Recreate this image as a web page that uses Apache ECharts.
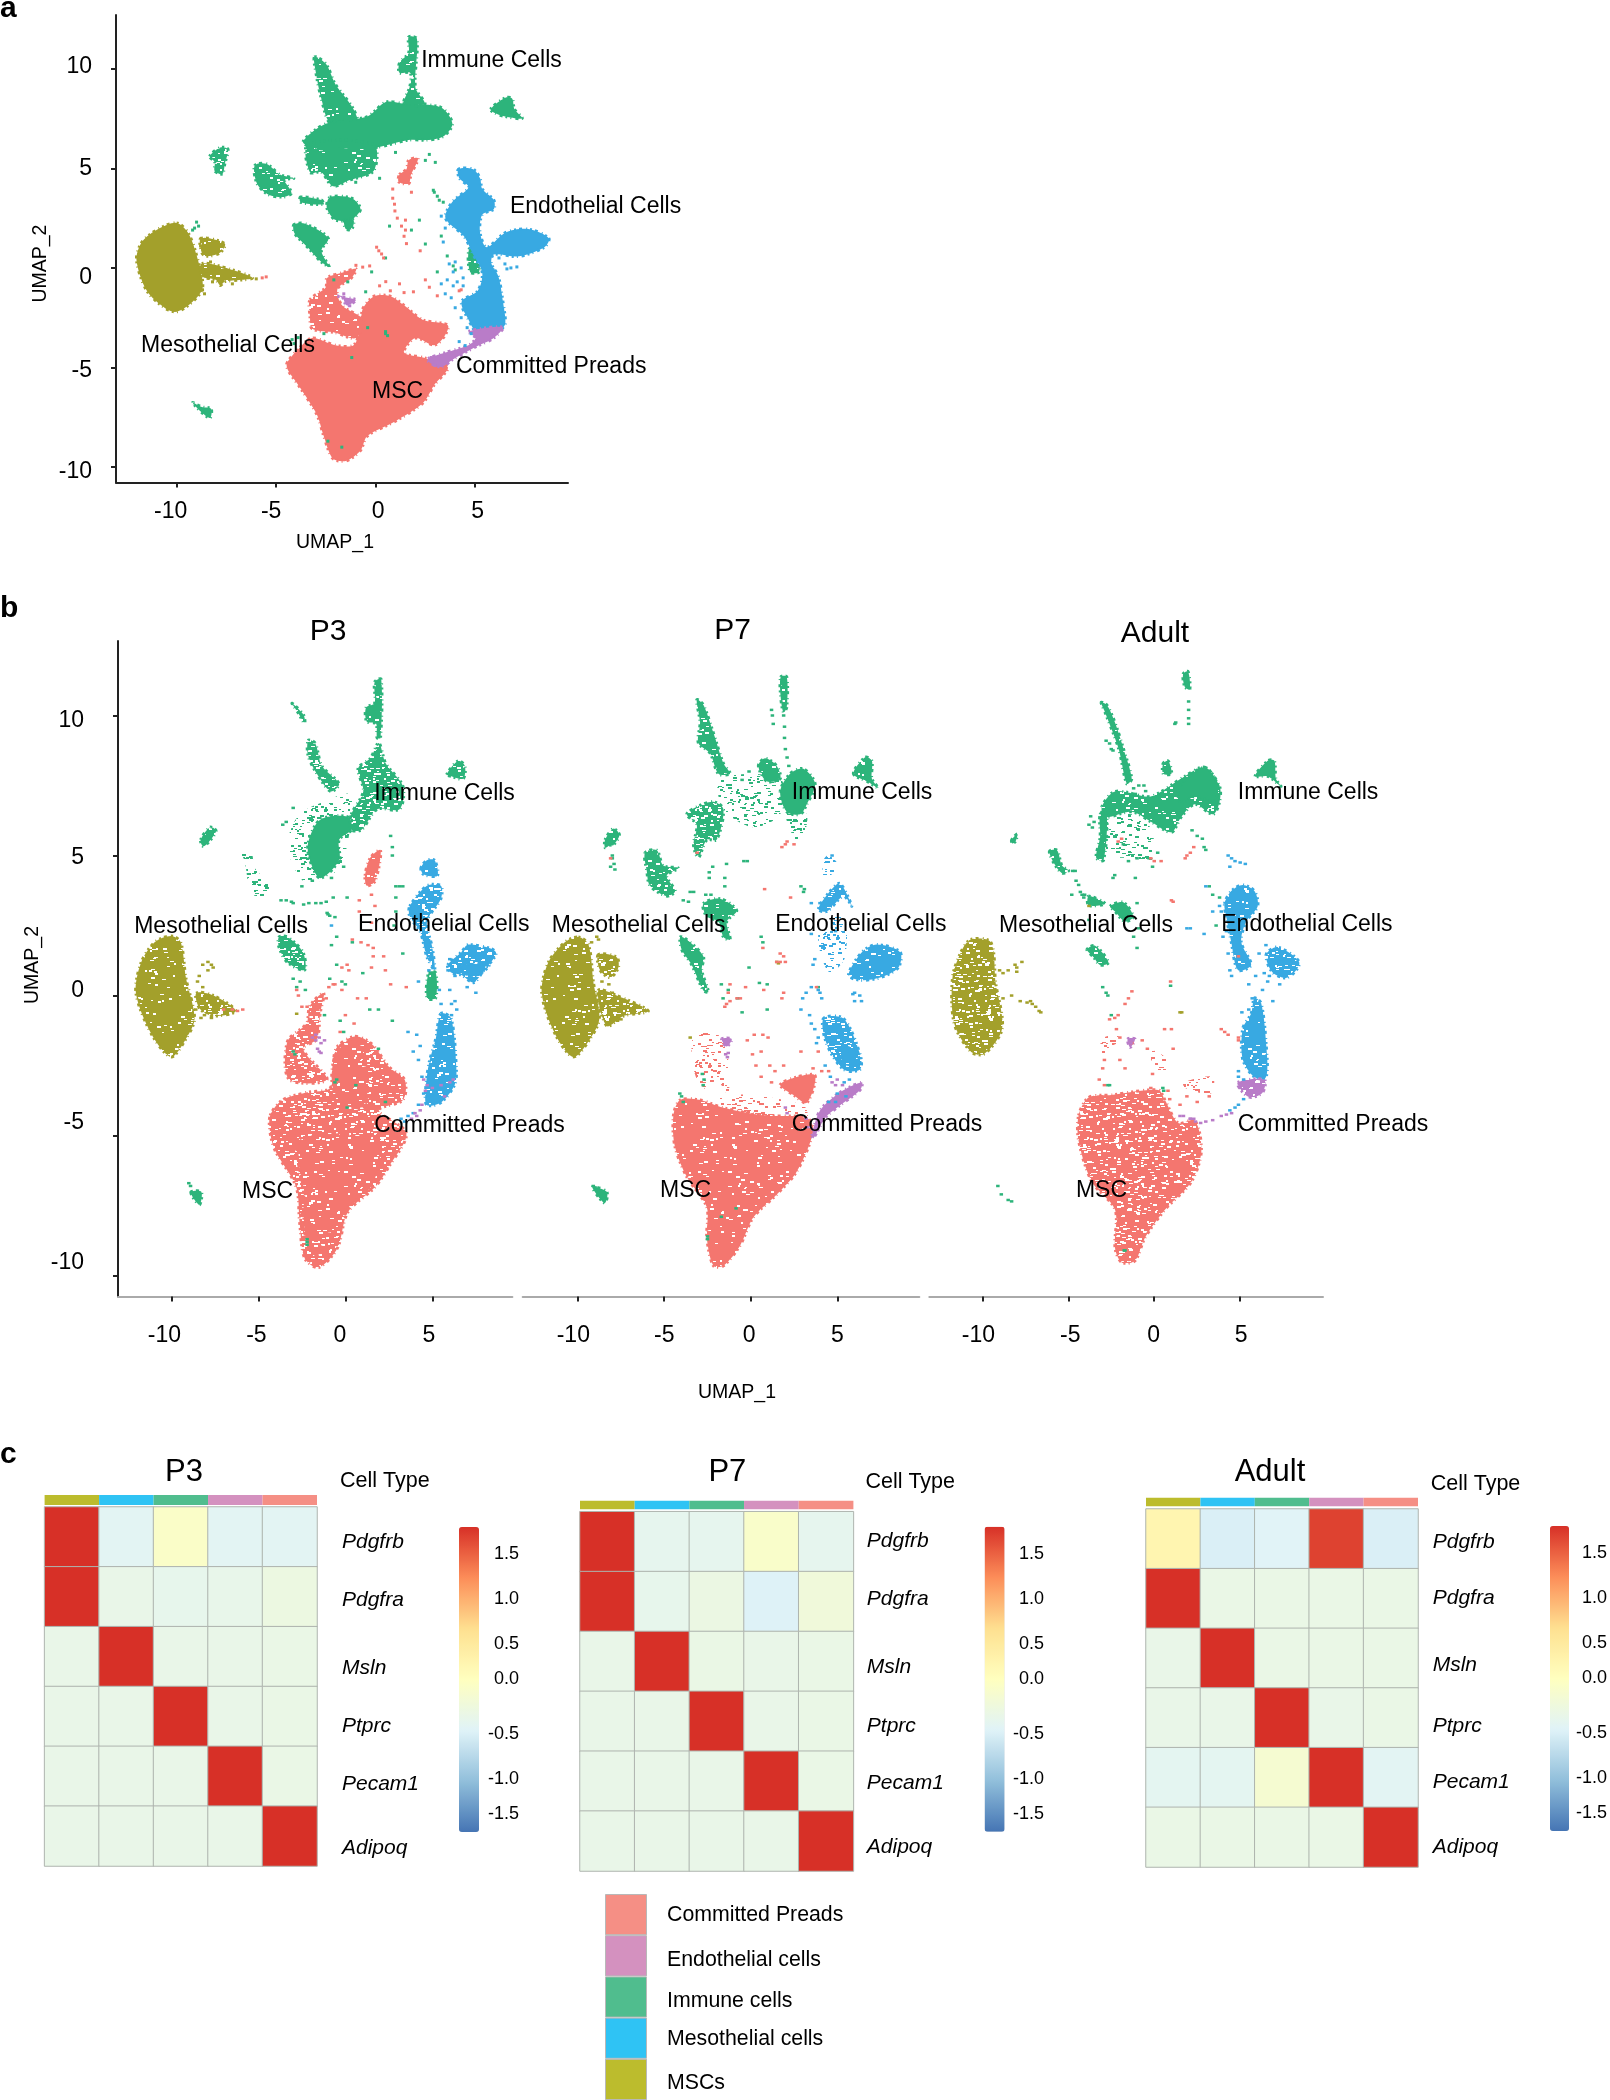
<!DOCTYPE html>
<html><head><meta charset="utf-8"><style>html,body{margin:0;padding:0;background:#fff}#c{width:1610px;height:2100px}</style>
<script src="https://cdn.jsdelivr.net/npm/echarts@6/dist/echarts.min.js"></script></head>
<body><div id="c"></div>
<script>
// ---------- Tick labels and categories ----------
const umapXTicks=[-10,-5,0,5];
const umapYTicks=[-10,-5,0,5,10];
const genes=['Pdgfrb','Pdgfra','Msln','Ptprc','Pecam1','Adipoq'];
const cellTypes=['MSCs','Mesothelial cells','Immune cells','Endothelial cells','Committed Preads'];
const legendOrder=['Committed Preads','Endothelial cells','Immune cells','Mesothelial cells','MSCs'];
const colorbarLabels=['1.5','1.0','0.5','0.0','-0.5','-1.0','-1.5'];
const clusterNames=['Immune Cells','Endothelial Cells','Mesothelial Cells','Committed Preads','MSC'];

// ---------- Heatmap values (rows = genes, columns = cellTypes) ----------
const heatP3=[[1.9,-.58,-.1,-.58,-.58],[1.9,-.45,-.5,-.48,-.38],[-.45,1.9,-.45,-.45,-.43],[-.45,-.45,1.9,-.45,-.43],[-.45,-.45,-.45,1.9,-.43],[-.45,-.45,-.45,-.45,1.9]];
const heatP7=[[1.9,-.52,-.52,-.12,-.52],[1.9,-.5,-.4,-.65,-.3],[-.45,1.9,-.42,-.45,-.43],[-.45,-.45,1.9,-.45,-.43],[-.45,-.45,-.45,1.9,-.43],[-.45,-.45,-.45,-.45,1.9]];
const heatAdult=[[.2,-.68,-.62,1.78,-.68],[1.9,-.43,-.43,-.43,-.43],[-.45,1.9,-.43,-.43,-.43],[-.45,-.45,1.9,-.45,-.43],[-.55,-.55,-.2,1.9,-.58],[-.43,-.43,-.43,-.43,1.9]];

// ---------- UMAP regions: [density level, x,y, x,y, ...] ----------
const aImmune=[
[2,-3.07,10.6,-2.5,10.25,-2.03,9.24,-1.11,7.97,-.88,7.05,-2.26,7.24,-2.73,8.51,-3,9.79],
[1,-3.65,6.33,-2.5,7.24,-.42,7.6,.51,8.33,1.43,8.24,3.28,8.06,3.86,7.24,3.4,6.6,2.59,6.42,1.66,6.42,.05,6.05,-1.3,6,-3,6],
[2,-3.4,6.2,-.1,6.2,-.1,4.87,-1.34,4.4,-2.15,4.1,-2.73,4.8,-3.3,4.8],
[2,1.66,11.6,2.08,11.5,2,9.06,2.47,8.24,1.43,8.24,1.73,9.15,1.73,9.8,1.2,9.8,1.2,10.3,1.66,10.8],
[1,5.78,7.97,6.52,8.55,6.86,8.51,6.98,7.97,7.37,7.51,6.52,7.6,6.05,7.75],
[3,-8.34,5.6,-7.81,6.05,-7.42,5.96,-7.58,5.23,-7.7,4.72,-8.09,4.87,-8.09,5.32],
[2,-6.08,5.14,-5.5,5.23,-4.81,4.69,-4.11,4.5,-4.58,4.41,-4.23,3.77,-4.62,3.56,-5.38,3.68,-5.96,4.23],
[1,-3.77,3.56,-2.73,3.41,-2.61,3.19,-3.77,3.3],
[1,-2.3,3.55,-1.2,3.5,-.76,2.95,-1.2,2.45,-2,2.4,-2.45,3],
[2,-1.57,2.4,-1.11,2.4,-1.2,1.95,-1.5,1.95],
[1,-4.11,2.17,-3.54,2.22,-2.38,1.49,-2.73,.86,-2.33,.04,-2.84,.4,-3.42,1.04,-4.07,1.73],
[1,-9.2,-6.76,-8.74,-6.98,-8.27,-7.07,-8.32,-7.53,-8.74,-7.26],
[2,4.7,.95,5.15,.9,5.2,-.2,4.75,-.2]];
const aMeso=[
[1,-10,2.26,-9.43,1.77,-9.01,.67,-8.69,-.97,-9.2,-1.7,-10,-2.2,-10.58,-2.02,-11.5,-1.15,-12.02,.4,-11.74,1.31,-10.93,1.95],
[2,-8.78,1.49,-7.58,1.22,-7.81,.77,-8.5,.58,-8.74,.77],
[2,-8.74,.22,-7.35,-.05,-6.19,-.51,-7.58,-.69,-7.81,-.88,-8.04,-.6,-8.74,-.42]];
const aMSC=[
[1,-4.46,-4.79,-3.88,-4.07,-3.19,-3.52,-2.03,-3.88,-1.11,-3.88,-.76,-2.97,-.65,-2.06,-.07,-1.42,.74,-1.42,1.43,-1.88,2.36,-2.6,3.63,-2.88,3.4,-3.52,2.94,-3.88,2,-3.52,1.43,-4.25,2.47,-4.52,3.63,-4.98,2.94,-5.89,2.36,-6.8,.97,-7.71,-.42,-8.44,-.76,-9.17,-1.46,-9.68,-2.15,-9.57,-2.61,-8.44,-2.96,-7.35,-3.88,-5.89,-4.39,-5.16],
[2,-3.3,-1.6,-2.5,-.97,-2.45,-.51,-1.69,-.24,-.99,-.05,-1.22,-.51,-1.92,-1.06,-1.69,-1.88,-.65,-2.6,-.99,-3.52,-2.03,-3.25,-3.19,-3.06,-3.3,-2.42],
[1,1.2,4.69,1.55,4.96,1.66,5.41,2.13,5.5,1.78,4.69,1.66,4.23,1.16,4.32]];
const aEndo=[
[1,4.16,4.96,4.9,4.96,5.25,4.5,5.36,3.96,5.94,3.41,5.94,2.95,5.36,2.68,5.25,1.77,5.59,1.04,6.52,1.77,7.67,1.95,8.71,1.49,8.48,1.04,7.21,.58,5.94,.67,5.82,.22,6.17,-.42,6.4,-1.7,6.52,-2.79,6.29,-3.06,5.13,-3.25,4.67,-2.6,4.32,-1.7,5.13,-1.15,5.36,-.24,4.9,.67,4.44,1.59,3.51,2.5,3.86,3.32,4.67,4.05,4.21,4.5]];
const aPread=[
[1,4.67,-3.19,6.4,-2.97,5.94,-3.52,5.02,-3.97,3.86,-4.61,3.28,-4.98,2.59,-4.61,3.51,-4.25,4.67,-3.88,5.02,-3.52],
[1,-1.92,-1.42,-.99,-1.6,-1.46,-1.88,-1.69,-1.42]];

const p3Immune=[
[3,-2.14,9.11,-1.74,9.02,-1.35,8.2,-.36,7.56,-.85,7.29,-1.64,7.92,-2.14,8.56],
[3,-3.07,10.44,-2.4,10.02,-2.34,9.71,-2.73,10.11],
[4,-3.33,5.56,-2.63,6.47,-1.25,6.92,.34,7.19,.34,6.28,-.26,4.64,-1.45,4.1,-2.44,4.1,-3.23,5.01],
[2,-2.14,5.46,-1.45,6.28,.14,6.38,.34,5.92,-.36,5.56,-.36,4.83,-1.45,4.19,-2.04,4.83],
[3,.34,6.47,1.03,7.29,.73,8.11,1.43,8.47,1.92,9.02,2.32,8.29,3.31,7.47,3.11,6.65,1.82,6.65,.93,5.92,.34,5.92],
[2,1.68,11.2,2.06,11.29,2.02,9.2,1.82,9.2,1.76,9.71,1.23,9.78,1.19,10.29,1.68,10.44],
[3,5.82,7.89,6.48,8.38,6.87,8.2,6.77,7.74,6.08,7.83],
[2,-8.32,5.56,-7.78,6.01,-7.43,5.88,-7.88,5.46,-8.18,5.33],
[4,-6.1,5.19,-5.41,5.1,-5.21,4.55,-4.32,3.92,-4.62,3.55,-5.41,3.64,-5.8,4.83],
[3,-3.82,2.09,-3.33,2.09,-2.44,1.55,-2.34,.91,-3.33,1.18,-3.82,1.73],
[1,-8.87,-7.01,-8.28,-7.01,-8.38,-7.47,-8.77,-7.2],
[2,4.79,.82,5.19,.82,5.19,-.09,4.69,-.09]];
const p3Meso=[
[2,-10.02,2.13,-9.47,1.91,-9.17,.64,-8.67,-.82,-9.17,-1.55,-10.02,-2.19,-11.15,-1.37,-12.04,.09,-11.74,1.18,-10.95,1.91],
[3,-8.57,.09,-7.58,0,-6.3,-.55,-7.58,-.73,-8.38,-.46]];
const p3MSC=[
[3,-4.32,-4.28,-3.62,-3.73,-2.24,-3.46,-.85,-3.28,-.55,-1.91,.53,-1.46,1.52,-1.73,2.51,-2.55,3.41,-3.01,3.31,-3.73,1.92,-4.1,3.5,-4.92,2.51,-6.1,1.72,-6.83,.14,-7.74,-.46,-9.02,-1.54,-9.71,-2.34,-9.38,-2.63,-8.11,-2.83,-6.83,-4.02,-5.56,-4.32,-4.92],
[2,-.55,-2.09,.53,-1.55,1.13,-2.28,1.13,-3.92,-.06,-3.92,-.75,-3.19],
[2,-2.6,-5.2,1.8,-5.2,1.6,-6.7,.1,-7.6,-.9,-8.4,-1.7,-9.3,-2.3,-8.6,-2.4,-7],
[3,-3.33,-1.64,-2.24,-1,-2.04,-.36,-1.25,.09,-1.45,-.64,-1.64,-1.55,-2.44,-1.91,-1.05,-3,-3.23,-3],
[2,1.13,4.28,1.43,4.92,2.02,5.19,1.72,4.1,1.23,3.92]];
const p3Endo=[
[3,3.7,3.19,4.69,3.92,5.49,3.92,5.49,3.46,4.69,2.64,4.99,1.73,5.13,.91,4.69,1.37,4.3,2.28,3.7,2.82],
[2,4.34,4.55,4.69,4.83,5.13,4.83,5.29,4.28,4.5,4.32],
[3,5.88,1.09,6.67,1.55,7.07,1.82,8.65,1.55,7.86,.82,7.37,.46,6.67,.73,6.08,.82],
[2,6.67,1.09,8.25,1.09,7.56,.73,6.77,.82],
[2,5.49,-.64,6.08,-.82,6.38,-2.64,6.28,-3.19,5.49,-3.82,4.69,-3.92,4.59,-3.55,4.79,-2.46,5.19,-1.55]];
const p3Pread=[];

const p7Immune=[
[2,-3.12,10.56,-2.74,10.38,-2.16,9.38,-1.58,8.29,-1.19,7.92,-1.87,7.92,-2.35,8.65,-3.03,9.02,-2.93,9.75],
[4,-1.77,7.74,1.7,7.74,1.7,6.47,.15,6.01,-1.58,6.65],
[1,1.7,7.29,2.27,7.92,3.04,8.1,3.72,7.56,3.24,6.83,2.85,6.47,2.08,6.56],
[2,.44,8.2,.83,8.47,1.5,8.2,1.7,7.74,.92,7.65],
[2,1.73,11.38,2.08,11.38,2.08,10.29,1.89,10.11,1.73,10.66],
[3,-3.7,6.47,-3.12,6.74,-2.16,6.92,-1.58,6.65,-1.97,5.56,-2.54,5.56,-3.03,4.92,-3.31,5.37,-3.12,6.1],
[4,2.08,6.47,3.24,6.47,2.85,5.37,2.27,5.92],
[2,5.93,7.92,6.61,8.51,7,8.38,7,7.74,7.38,7.41,6.71,7.65],
[2,-8.42,5.56,-7.94,5.96,-7.59,5.74,-7.94,5.37,-8.13,5.37,-8.42,5.28],
[3,-6.11,5.1,-5.43,5.19,-5.05,4.64,-4.18,4.55,-4.86,4.28,-4.37,3.73,-4.86,3.55,-5.82,3.92,-6.01,4.46],
[2,-2.74,3.28,-1.77,3.46,-.81,3.04,-1.39,2.64,-1.19,2,-1.58,2.09,-1.87,2.64,-2.54,2.82],
[2,-4.08,2.09,-3.7,2,-2.74,1.4,-2.83,.91,-2.45,.13,-2.74,.18,-3.41,1.09,-3.99,1.64],
[1,-9.15,-6.83,-8.32,-7.01,-8.42,-7.41,-8.8,-7.19]];
const p7Meso=[
[2,-9.96,2.09,-9.38,1.82,-9.09,.46,-8.75,-.82,-9.29,-1.55,-10.25,-2.19,-11.31,-1.37,-12.08,.09,-11.7,1.18,-10.73,1.91],
[3,-8.81,1.46,-7.75,1.37,-7.65,1,-8.13,.64,-8.71,.91],
[3,-8.81,.18,-7.75,0,-5.92,-.55,-7.36,-.73,-8.32,-1.09]];
const p7MSC=[
[4,-1.77,-3.64,-.04,-3.55,3.04,-3.92,3.24,-4.37,.73,-4.28,-1.58,-4.01],
[2,-4.47,-4.28,-4.08,-3.73,-2.93,-3.73,-1.58,-4.01,.73,-4.28,3.24,-4.37,3.62,-4.83,2.66,-6.28,1.5,-7.1,.15,-7.92,-.62,-8.93,-1.58,-9.65,-2.16,-9.65,-2.54,-8.65,-2.54,-7.56,-3.7,-6.47,-4.39,-5.37],
[1,1.7,-3.19,2.66,-2.91,3.72,-2.86,3.24,-3.83,2.47,-3.55],
[4,-3.31,-1.46,-1.97,-1.37,-1.39,-1.91,-1.29,-3.55,-1.97,-3.01,-2.54,-3.37,-3.22,-2.82]];
const p7Endo=[
[2,5.65,.73,6.42,1.55,7.28,1.82,8.63,1.55,8.53,1,7.48,.64,6.32,.55],
[2,3.91,3.09,4.59,3.73,5.16,4,5.84,3.19,5.36,3.55,4.39,3],
[4,4.01,2.46,5.36,2.82,5.45,1.37,4.59,.82,4.01,1.55],
[4,4.2,4.83,4.49,5.01,5.07,4.64,4.59,4.28,4.2,4.28],
[3,4.2,-.82,5.36,-.82,6.32,-2.1,6.32,-2.64,5.36,-2.64,4.39,-1.73],
[2,5.26,-1.91,5.93,-1.91,6.32,-2.46,5.36,-2.46]];
const p7Pread=[
[1,3.53,-5.01,4.01,-4.1,5.16,-3.46,6.42,-3.1,6.32,-3.37,5.16,-3.92,4.3,-4.37,3.62,-5.1],
[1,-1.68,-1.55,-1.1,-1.55,-1.39,-1.82]];

const adImmune=[
[1,1.68,11.48,1.97,11.57,2.07,10.93,1.78,11.02],
[2,-3.09,10.47,-2.76,10.38,-2.28,9.74,-1.8,8.83,-1.31,7.74,-1.6,7.56,-2.08,8.83,-2.86,10.11],
[2,-3.05,6.74,-2.28,7.29,-.35,7.1,.42,7.29,1.78,7.83,2.93,8.15,3.8,7.47,3.8,6.92,3.42,6.47,2.36,6.83,1.58,6.38,1,5.83,-.15,6.19,-1.31,6.56,-2.86,6.37],
[1,1.5,7.5,2.93,8.15,3.7,7.5,3.5,6.95,2.4,7.1,1.5,6.9],
[2,-3.15,6.47,-2.76,6.47,-2.95,4.83,-3.38,4.92,-3.15,5.65],
[4,-2.76,6.28,-1.31,6.47,-.15,5.92,-.15,4.83,-1.31,4.92,-2.66,5.01],
[2,.52,8.29,.81,8.38,1,7.92,.52,7.92],
[1,5.87,7.83,6.6,8.38,6.99,8.38,7.08,7.74,7.37,7.47,6.6,7.83],
[1,-8.3,5.56,-7.97,5.77,-8.06,5.52,-8.26,5.43],
[2,-6.1,5.15,-5.66,5.19,-5.37,4.64,-4.98,4.46,-5.37,4.37,-5.85,4.74],
[1,-2.57,3.19,-1.8,3.33,-1.22,2.82,-1.7,2.64,-2.28,3],
[3,-3.82,3.55,-2.86,3.28,-3.82,3.22],
[2,-3.92,1.64,-3.44,1.78,-2.66,1.18,-3.15,1.09,-3.53,1.37]];
const adMeso=[
[3,-10.68,2,-9.52,1.91,-9.23,.46,-8.85,-1.18,-9.9,-2.09,-10.68,-2,-11.64,-1,-11.74,.64,-11.25,1.55]];
const adMSC=[
[3,-4.4,-4.28,-3.82,-3.64,-2.47,-3.55,.23,-3.37,.62,-3.73,1.39,-4.55,2.36,-4.46,2.74,-5.56,2.16,-6.65,.62,-7.65,-.54,-8.65,-1.12,-9.47,-1.89,-9.53,-2.28,-9.02,-2.28,-7.65,-3.63,-6.65,-4.4,-5.19],
[4,-3.1,-1.6,-2.3,-1.4,-1.9,-1.6,-2.7,-1.9,-2.9,-2.4],
[4,-.4,-1.9,.8,-2.3,.4,-2.9,0,-2.5],
[4,1.7,-3.1,3.4,-2.9,3.3,-3.5,1.8,-3.3]];
const adEndo=[
[2,4.09,3.28,4.48,3.73,5.15,3.95,5.83,3.73,6.02,3.19,5.35,2.64,5.06,1.91,5.64,1.09,4.87,.91,4.48,1.91,4.19,2.82],
[3,6.51,1.46,7.18,1.73,8.44,1.18,7.76,.64,6.89,.82],
[2,5.83,-.09,6.22,-.27,6.51,-1.73,6.51,-2.91,5.83,-2.91,5.15,-2.28,5.15,-1.18,5.64,-.64]];
const adPread=[
[3,4.86,-3.1,6.41,-3,6.31,-3.46,5.64,-3.64,5.15,-3.46],
[1,-1.55,-1.55,-1.12,-1.55,-1.4,-1.85]];

// ---------- Isolated cells: x,y, x,y ... ----------
const aImmuneDots=[2.7,5.7,2.5,5.4,3,5.3,2.9,3.9,3.1,3.6,3.4,3.3,2.95,3.8,3.2,3.4,.7,2.1,2.2,2.4,1.8,1.9,2.5,1.2,3.3,1.6,3.6,.6,3.9,.1,4,-.1,3.1,-.2,-2.1,-.6,-.5,-1.2,-.4,-3,.5,-3.2,-2.6,-3.3,-1.2,-4.5,-1.7,-9,-2.4,-8.7,.5,.5,-.2,-.2,-1.4,-.7,-1,4.3,.2,4.5,1,5.8,-3.9,-3.5,-4.1,-3.8,-8.9,2.1,-9,2.3,-9.1,2,-9.2,1.9,-4.2,-3.6,.6,-3.4,.5,-3.3];
const aMesoDots=[-8.6,-1.3,-8.7,-1.1,-8.4,-.5,-8.5,-.3,-8.3,.3,-8.1,-.2,-8.2,-.7,-8.6,.9,-8.8,1.1,-7.2,-.8,-6,-.55];
const aMSCDots=[.86,3.5,.97,2.86,1.09,2.5,1.43,1.59,.05,1.04,.16,.86,1.55,1.22,2.24,.86,-.99,.13,-.65,.04,.51,-.69,.74,-1.15,1.43,-1.24,2.7,-.97,4.2,-1.15,.86,3.96,.95,3.2,1.3,2.1,1.5,1.9,.3,.7,.4,.5,-.3,.1,1.2,-.8,.2,-.9,1.9,-1.2,2.5,-.6,3.1,-1.4,-5.7,-.5,-5.5,-.45,4.3,-1.1,1.8,3.8,1.5,2.4];
const aEndoDots=[3.3,-.8,3.6,-.6,3.5,-1.3,3.8,-1.5,3.9,-.9,4.1,-.7,4.4,-.9,3.7,.2,4,.3,4.3,0,6.5,.2,6.8,0,7.1,.05,3.5,2,3.3,2.6,4.5,-3.9,4.2,-3.7,4.8,-3.3,3.9,-.2,4.4,-.5,3.4,1.3,4,-2,4.3,-2.5,4.6,-3,6.2,.5,5.9,-.1,6.6,-.05];
const aPreadDots=[-1.6,-1.3,-1.3,-1.9,3,-4.9,2.8,-4.5];
const p3ImmuneDots=[-3.7,3.4,-3.4,3.4,-3.1,3.35,-2.4,3.25,-2.1,3.3,-1.7,3.3,-1.4,3.3,-1.1,3.35,-1,2.9,-.9,2.85,-.6,2.8,-1.05,2.95,-3,3.3,-.7,3.5,-.1,4.6,-.8,4.2,.1,3.5,-3,6.7,-3.4,6.2,-3.6,6.1,-1.9,4.1,-2.5,3.9,2.6,5.7,2.7,5.3,2.7,5,2.9,3.9,3.1,3.9,2.9,3.5,3.3,3.9,2.9,3,2.8,2.5,.4,1.9,-.5,2.1,-.8,1.8,3.3,1.5,-.5,1.1,-.9,.6,-.2,.5,0,.4,1,.8,1.4,-.5,1.9,-.5,2.7,-.9,-.3,-.9,-.1,-1.3,-2.3,.2,-2.6,.5,-1.2,-.7,-2.8,.3,-3,.6,-8.9,-6.8,-9,-6.7,-.5,-3,-.6,-3.1,.6,-3.2,.1,-4,2.3,-3.8,1.9,-1.9,-3,-2,-2.9,-2.1,-2.2,-8.7,-2.2,-8.8,-2.2,-8.9];
const p3MesoDots=[-8.2,1.1,-7.9,1.2,-7.9,.9,-7.7,1.1,-7.6,1,-8.4,.7,-8.5,.5,-8.2,.3,-8.6,-.5,-8.3,-.8,-8.1,-.7,-7.7,-.8,-8.9,-.1,-2.8,-.65];
const p3MSCDots=[1.5,3.6,.8,3.4,.8,3,1.7,3.2,1.5,2.6,.4,2,.9,1.9,1.3,1.8,1.6,1.7,1.6,1.4,2.2,1.4,2.3,.9,1.5,1,.1,1.1,.2,.9,-.2,1,-.2,.2,-.7,.4,-.95,.3,-1.1,-.1,.7,-.1,1.2,-.1,2.6,.4,3.5,.3,.5,-1,0,-.7,-2.8,.2,-2.7,0,-2.5,-.4,-2.2,-.4,-.3,-1.3,-.6,.4,-7,-.5,-6.5,-.5,-6.2,-.55,-5.9,-.5];
const p3EndoDots=[3.6,-1.3,4.1,-1.4,4.3,-1.8,3.9,-2,4.2,-2.3,4.4,-2.9,4.5,-3.5,4.2,-3.9,3.9,-4.2,3.6,-4.3,3.2,-4.4,3.4,-4.5,6.1,-.3,6.3,-.2,6.4,-.5,6.1,-.7,5.4,.2,5.9,.9,6,1.3,6.3,.7,4.2,.5,4.8,.9,-.8,2.5,5.5,-.3,6,.2,7.5,.1,7,.3];
const p3PreadDots=[-1.9,-1.5,-1.7,-1.6,-1.5,-1.5,-1.4,-1.7,-1.2,-1.6,-1.6,-1.9,-1.5,-2,-1.4,-2.05,-1.7,-1.4,4.5,-3,4.7,-3.2,4.6,-3.4,5,-3.3,5.5,-3.2,6.2,-3,6,-3.1,5.7,-3.6,4.3,-4.1,4.1,-4.3,4,-4.2,3.8,-4.4,4.4,-3.9];
const p7ImmuneDots=[1.2,10.2,1.25,10,1.3,9.7,1.9,10,1.95,9.6,1.95,9.2,2,8.8,2.1,8.5,2.2,8.2,-.1,8,-.5,7.7,-1.4,4.7,-1.5,3.9,-2.2,4.6,-2.4,4.4,-2.4,4.2,-1.5,4.2,-2.3,3.6,-2.6,3.6,-3.5,3.7,-3.3,3.7,-3.9,3.4,-3.6,3.35,-.4,4.8,-.2,4.8,.6,2.1,.7,1.9,.5,.45,.95,.4,-.1,1,2.9,3.9,3.1,3.8,3.05,3.7,-8,5,-8,4.9,-7.9,4.7,-7.85,4.5,-8.1,4.6,-9.1,-6.8,-9,-6.85,-4.1,-3.5,-4,-3.6,-3.9,-3.8,-2.75,-3.2,-2.7,-3,-2.8,-2.8,-1.3,.2,-1.6,-.1,-1.7,.4,-.75,-.1,-.5,-.6,.95,-.5,3.9,.3,-2.5,-8.6,-2.5,-8.7,-.85,-7.6,-1.7,-7.9];
const p7MesoDots=[-8.6,.5,-8.2,.4,-8,.1,-8.4,-.3,-7.7,-.9,-7.5,-.85,-8,-.9,-8.9,2.1,-8.8,2,-9.2,1.9,-3.5,-1.5,1.5,1.2,1.6,1.15];
const p7MSCDots=[.8,3.8,.7,1.7,1.7,1.5,1.9,1.4,2,1.2,1.7,1.2,1.5,1.2,.75,.2,-1.2,.4,-1.3,.1,-.8,-.1,-.3,.3,-1.2,-.2,-1.4,-.3,-1.5,-.4,-.6,-.1,1.8,-.1,1.9,.1,-.2,-1.6,.2,-1.4,.7,-1.4,1,-1.5,.6,-2,.1,-2.1,.3,-2.5,.6,-2.9,1.1,-2.5,1.4,-2.7,1.2,-3.1,1.9,-2.5,2.9,-2,3.6,-2.6,4.1,-2.7,4.5,-2.7,3.9,-2,2.3,3.5,2.5,5.4,2,5.4,1.8,5.3,2.1,5.5,3.8,.3,-3.1,5.1,-8.1,4.9];
const p7EndoDots=[4.7,5,3.7,1.3,3.6,1.1,3,-.1,3.5,.3,3.2,.1,3.9,.2,4,.1,4.1,-.1,2.9,-.5,3.4,-.7,3.5,-1,3.7,-1.2,3.9,-1.5,3.8,-1.7,4.3,-2.5,4.6,-2.9,5.4,-3.1,5.7,-3,5.5,-3.6,4.9,-3.8,4.5,-3.8,5,-3.5,6,.1,6.3,0,6.4,-.2,6,-.2,5.9,.05,3.5,3.3,4,3.3,4.9,2.3,3.5,2.2];
const p7PreadDots=[-1.35,-2.2,-1.45,-2.1,-1.3,-2.05,4.7,-3.1,4.9,-3.2,5,-3,5.3,-3.2,3.2,-4.4,3.3,-4.7,2.1,-4.2,2,-4];
const adImmuneDots=[2,10.5,2,10.2,2,9.9,2,9.7,1.2,9.7,1.25,9.75,-2.8,9.1,-2.6,9,-2.5,8.8,-2.4,8.75,-1.2,7.4,-1.1,7.2,-.9,7.5,-.6,7.5,-.5,7.3,-1,4.9,-1.1,4.2,-2.4,4.2,-2.3,4.3,-1.8,5.4,-1.5,4.8,-3.5,6.2,-3.6,6,-3.8,6.1,-3.7,6.4,-4.55,4.1,-4.4,3.95,-4.3,3.7,-4.2,3.6,-4.75,4.45,-4.6,4.45,-4.05,3.6,-4.1,3.5,-1,3.3,-.9,2.4,-1.2,2.1,-1,1.7,-3.8,2.7,-4.8,3.6,-.1,4.6,-.3,4.9,.2,5.1,2.2,5.9,2.5,5.7,2.8,5.6,2.9,5.3,3,5.2,.95,.35,3.2,3.9,3.4,3.6,3.8,3.5,3.6,2.5,-3,.3,-2.8,.1,-2.7,0,-2.5,-.7,-2.7,-3.2,-2.6,-3.2,-9.1,-6.8,-8.9,-7.1,-8.5,-7.3,-8.3,-7.35,.5,-3.3,.55,-3.4,-1.75,-9.1,-1.7,-9.1];
const adMesoDots=[-9,.9,-8.8,.8,-8.5,.9,-8.1,1.1,-8,1,-8,.85,-7.7,1.2,-8.3,0,-7.4,-.25,-7.2,-.2,-7.1,-.3,-6.9,-.4,-6.7,-.55,-6.6,-.6,-7.8,-.2,-8.8,-.1,-3.8,3.2,1.5,-.6,1.6,-.6];
const adMSCDots=[1,3.4,2.1,5.1,1.9,5,1.8,4.9,2.3,5.3,-.2,4.9,0,4.8,.4,4.8,-1.9,5.6,-2.1,5.5,1.1,3.35,.95,.5,-1.3,.15,-1.5,-.1,-1.7,-.3,-2.1,-.7,-2.3,-.8,-2.6,-.85,-2.2,-1.2,-2,-1.5,-3,-2.6,-2.9,-2.3,-2,-2.3,-1.3,-1.7,-1.7,-2.6,-.7,-1.6,-.4,-1.9,.6,-1.2,1,-1.2,1.1,-1.9,3.9,-1.2,4.1,-1.3,4.3,-1.4,4.9,-1.5,4.9,-1.6,-3.2,-3,-2.9,-3.2,-3.1,-3.6,-.1,-2.8,-.2,-3.3,.8,-3.4,.9,-3.7,1.5,-3.9,1.9,-3.6,2.5,-3.8,3.2,-3.6,4.9,1.4];
const adEndoDots=[4.3,5,4.5,4.9,4.7,4.8,5,4.75,5.3,4.7,4.4,4.6,3,3.9,2.1,2.4,1.9,2.4,2.9,2.2,3.4,3,3.8,3.2,3.9,3,4.2,2.3,4,2.1,4.3,1.5,4.4,.9,4.5,.7,5.5,.4,5.7,-.1,5.5,-.5,5.1,-.6,6.1,1.5,6.5,1.8,6.7,.7,6.4,.8,7.3,.4,6.9,-.2,6.6,.5,6.3,.2,5.9,.7,4.9,-2.7,5.2,-3,4.9,-2.9,4.4,-4.1,4.7,-4,4.9,-3.9,5.2,-3.7];
const adPreadDots=[2.4,-4.5,2.7,-4.55,3,-4.5,3.4,-4.45,3.9,-4.3,4.2,-4.25,4.5,-4.2,2.1,-4.4,1.7,-4.3,1.5,-4.3,2.1,-4.4,2.3,-4.4,-1.35,-1.7,5,-3.3];

// ---------- Cluster name positions (data coordinates, same order as clusterNames) ----------
const aNamePos=[[2.29,10.47],[6.75,3.17],[-11.79,-3.83],[4.04,-4.89],[-.18,-6.16]];
const p3NamePos=[[1.66,7.25],[.73,2.59],[-12.14,2.51],[1.66,-4.59],[-5.94,-6.96]];
const p7NamePos=[[2.37,7.29],[1.41,2.59],[-11.5,2.55],[2.37,-4.55],[-5.24,-6.92]];
const adNamePos=[[4.86,7.29],[3.9,2.59],[-9.03,2.55],[4.86,-4.55],[-4.56,-6.92]];

// ---------- Style and layout (not data) ----------
const FONT='"Liberation Sans",Arial,sans-serif', INK='#000';
const COL={immune:'#2DB47B',meso:'#A3A02B',msc:'#F4766F',endo:'#38A9E2',pread:'#B97CC8'};
const ANNOT=['#BCBC2D','#2FC3F4','#50BD8E','#D491BF','#F58F85'];
const LEGENDCOL=['#F58F85','#D491BF','#50BD8E','#2FC3F4','#BCBC2D'];
// Stipple fill textures (style only): level 2/3 = colour with white flecks, level 4 = colour flecks on white.
// Fleck placement comes from a fixed hash of the fleck's index, so the texture is identical on every run.
const TEX={2:{flecks:230,ink:false},3:{flecks:620,ink:false},4:{flecks:640,ink:true}};
function fh(n){const v=Math.sin(n*12.9898)*43758.5453;return v-Math.floor(v);}
function tile(color,level){
  const S=128,c=document.createElement('canvas');c.width=S;c.height=S;
  const g=c.getContext('2d'),t=TEX[level];
  if(!t.ink){g.fillStyle=color;g.fillRect(0,0,S,S);g.globalCompositeOperation='destination-out';}
  g.fillStyle=t.ink?color:'#000';
  for(let i=1;i<=t.flecks;i++){
    const x=Math.floor(fh(i)*S),y=Math.floor(fh(i+5000)*S);
    const w=2+(i*7%3),h=1+(i%2);
    g.fillRect(x,y,w,h);
    if(x+w>S)g.fillRect(x-S,y,w,h);
    if(y+h>S)g.fillRect(x,y-S,w,h);
  }
  return {image:c,repeat:'repeat'};
}
const PANELS=[
 {left:116,top:15,w:452,h:467.4,xr:[-13.05,9.67],yr:[-10.77,12.7],dot:[3,3],xAxisCol:'#222',showY:true,
  xMargin:18,yMargin:24,xShift:[-6,-5,2.5,2.5],yShift:[5,3,10,0,-2],
  polys:[aImmune,aMeso,aMSC,aEndo,aPread],dots:[aImmuneDots,aMesoDots,aMSCDots,aEndoDots,aPreadDots],names:aNamePos},
 {left:118,top:641,w:394.4,h:655.6,xr:[-13.07,9.6],yr:[-10.75,12.66],dot:[3.5,2.5],xAxisCol:'#aaa',showY:true,
  xMargin:28,yMargin:34,xShift:[-7,-2,-5.4,-3.4],yShift:[-13,-13,-5,2,5.6],
  polys:[p3Immune,p3Meso,p3MSC,p3Endo,p3Pread],dots:[p3ImmuneDots,p3MesoDots,p3MSCDots,p3EndoDots,p3PreadDots],names:p3NamePos},
 {left:522.7,top:641,w:396.6,h:655.6,xr:[-13.18,9.74],yr:[-10.75,12.66],dot:[3.5,2.5],xAxisCol:'#aaa',showY:false,
  xMargin:28,xShift:[-4.4,0,-1.7,0],
  polys:[p7Immune,p7Meso,p7MSC,p7Endo,p7Pread],dots:[p7ImmuneDots,p7MesoDots,p7MSCDots,p7EndoDots,p7PreadDots],names:p7NamePos},
 {left:929.3,top:641,w:393.7,h:655.6,xr:[-13.09,9.82],yr:[-10.75,12.66],dot:[3.5,2.5],xAxisCol:'#aaa',showY:false,
  xMargin:28,xShift:[-4,2,-.7,1],
  polys:[adImmune,adMeso,adMSC,adEndo,adPread],dots:[adImmuneDots,adMesoDots,adMSCDots,adEndoDots,adPreadDots],names:adNamePos}];
const CLUSTER_KEYS=['immune','meso','msc','endo','pread'];
const HEATS=[
 {name:'P3',v:heatP3,left:44.6,top:1507,w:272.4,h:359,annTop:1495,annH:10,labMargin:25,dy:[5,3,12,10,8,12],
  barL:459,barW:20,barT:1527,barR:519,tx:184,ty:1472,ctx:340,cty:1481},
 {name:'P7',v:heatP7,left:580,top:1511.7,w:273.4,h:359.3,annTop:1500.7,annH:8.5,labMargin:13.4,dy:[0,-2.5,5.5,4.4,1.5,6],
  barL:984.6,barW:20,barT:1526.7,barR:1044,tx:727.4,ty:1472.7,ctx:865.4,cty:1481.7},
 {name:'Adult',v:heatAdult,left:1146,top:1509,w:272,h:358,annTop:1497.7,annH:8.5,labMargin:14.7,dy:[3,0,7,8,5,10],
  barL:1550,barW:19,barT:1526,barR:1611,tx:1270,ty:1472.7,ctx:1430.7,cty:1484}];
const cbRowOf=[5,14,23,30,41,50,57]; // rows of the 61-row colorbar guide where its labels sit
const cbRows=Array.from({length:61},(_,i)=>{const k=cbRowOf.indexOf(i);return k<0?'':colorbarLabels[k];});
const legendDy=[1,4,4,1,4];

// ---------- Option assembly ----------
const grid=[],xAxis=[],yAxis=[],series=[],visualMap=[],graphicEls=[];
function txt(text,x,y,size,o={}){
  graphicEls.push({type:'text',x,y,rotation:o.rot||0,silent:true,z:50,
    style:{text,fontFamily:FONT,fontSize:size,fontWeight:o.bold?'bold':'normal',fontStyle:'normal',fill:o.fill||INK,align:o.align||'center',verticalAlign:'middle'}});
}
function shiftedLabels(ticks,shift,horizontal,size,extra={}){
  const rich={};
  ticks.forEach((t,i)=>{const s=shift[i];
    const pad=horizontal?[0,s<0?-2*s:0,0,s>0?2*s:0]:[s>0?2*s:0,0,s<0?-2*s:0,0];
    rich['k'+i]=Object.assign({fontSize:size,fontFamily:FONT,color:INK,padding:pad},extra);});
  return {rich,formatter:v=>{const i=ticks.indexOf(v);return '{k'+i+'|'+v+'}';}};
}
PANELS.forEach((p,pi)=>{
  const gi=grid.length;
  grid.push({left:p.left,top:p.top,width:p.w,height:p.h,containLabel:false});
  const xl=shiftedLabels(umapXTicks,p.xShift,true,23);
  xAxis.push({type:'value',gridIndex:gi,min:p.xr[0],max:p.xr[1],splitLine:{show:false},
    axisLine:{onZero:false,lineStyle:{color:p.xAxisCol,width:2}},
    axisTick:{customValues:umapXTicks,length:5,lineStyle:{color:'#222',width:2}},
    axisLabel:{customValues:umapXTicks,margin:p.xMargin,formatter:xl.formatter,rich:xl.rich,hideOverlap:false}});
  if(p.showY){
    const yl=shiftedLabels(umapYTicks,p.yShift,false,23);
    yAxis.push({type:'value',gridIndex:gi,min:p.yr[0],max:p.yr[1],splitLine:{show:false},
      axisLine:{onZero:false,lineStyle:{color:'#222',width:2}},
      axisTick:{customValues:umapYTicks,length:5,lineStyle:{color:'#222',width:2}},
      axisLabel:{customValues:umapYTicks,margin:p.yMargin,formatter:yl.formatter,rich:yl.rich,hideOverlap:false}});
  } else {
    yAxis.push({type:'value',gridIndex:gi,min:p.yr[0],max:p.yr[1],show:false,splitLine:{show:false}});
  }
  CLUSTER_KEYS.forEach((key,ci)=>{
    const polys=p.polys[ci],solid=COL[key];
    const fills={1:solid,2:tile(solid,2),3:tile(solid,3),4:tile(solid,4)};
    series.push({type:'custom',name:key,coordinateSystem:'cartesian2d',xAxisIndex:gi,yAxisIndex:gi,silent:true,clip:false,z:2+(key==='pread'?1:0),
      data:polys.map((_,i)=>[i]),
      renderItem:(params,api)=>{
        const rec=polys[api.value(0)],pts=[];
        for(let i=1;i<rec.length;i+=2)pts.push(api.coord([rec[i],rec[i+1]]));
        const sparse=rec[0]===4;
        return {type:'polygon',shape:{points:pts,smooth:0.3},
          style:sparse?{fill:fills[4]}:{fill:fills[rec[0]],stroke:solid,lineWidth:3,lineDash:[2,3,3,4,1,3]}};
      }});
    const d=p.dots[ci],data=[];
    for(let i=0;i<d.length;i+=2)data.push([d[i],d[i+1]]);
    series.push({type:'scatter',name:key,xAxisIndex:gi,yAxisIndex:gi,silent:true,symbol:'rect',symbolSize:p.dot,
      itemStyle:{color:solid,opacity:1},data,z:4});
  });
  series.push({type:'scatter',xAxisIndex:gi,yAxisIndex:gi,silent:true,symbolSize:0,z:20,itemStyle:{opacity:1},
    data:clusterNames.map((n,i)=>[p.names[i][0],p.names[i][1],n]),
    label:{show:true,position:'right',distance:0,offset:[0,1.5],opacity:1,formatter:o=>o.data[2],fontFamily:FONT,fontSize:23,color:INK}});
});
HEATS.forEach(h=>{
  // expression matrix
  let gi=grid.length;
  grid.push({left:h.left,top:h.top,width:h.w,height:h.h});
  xAxis.push({type:'category',gridIndex:gi,data:cellTypes,show:false});
  const gl=shiftedLabels(genes,h.dy,false,21,{fontStyle:'italic'});
  yAxis.push({type:'category',gridIndex:gi,inverse:true,position:'right',data:genes,
    axisLine:{show:false},axisTick:{show:false},
    axisLabel:{margin:h.labMargin,formatter:gl.formatter,rich:gl.rich,color:INK,interval:0}});
  const si=series.length,data=[];
  h.v.forEach((row,r)=>row.forEach((val,c)=>data.push([c,r,val])));
  series.push({type:'heatmap',xAxisIndex:gi,yAxisIndex:gi,silent:true,data,itemStyle:{borderColor:'#aeb4ae',borderWidth:1}});
  visualMap.push({type:'continuous',seriesIndex:si,min:-1.9,max:1.9,left:h.barL,top:h.barT,itemWidth:h.barW,itemHeight:305,padding:0,
    calculable:false,hoverLink:false,realtime:false,text:null,inRange:{color:['#4575B4','#91BFDB','#E0F3F8','#FFFFBF','#FEE090','#FC8D59','#D73027']}});
  // annotation strip
  gi=grid.length;
  grid.push({left:h.left,top:h.annTop,width:h.w,height:h.annH});
  xAxis.push({type:'category',gridIndex:gi,data:cellTypes,show:false});
  yAxis.push({type:'value',gridIndex:gi,min:0,max:1,show:false});
  series.push({type:'bar',xAxisIndex:gi,yAxisIndex:gi,silent:true,barWidth:'100%',
    data:cellTypes.map((_,i)=>({value:1,itemStyle:{color:ANNOT[i]}}))});
  // colorbar label guide
  gi=grid.length;
  grid.push({left:h.barL,top:h.barT,width:h.barW,height:305});
  xAxis.push({type:'value',gridIndex:gi,min:0,max:1,show:false});
  yAxis.push({type:'category',gridIndex:gi,inverse:true,position:'right',data:cbRows,
    axisLine:{show:false},axisTick:{show:false},
    axisLabel:{interval:0,align:'right',margin:h.barR-h.barL-h.barW,fontFamily:FONT,fontSize:18,color:INK}});
  txt(h.name,h.tx,h.ty,31);
  txt('Cell Type',h.ctx,h.cty,21.5,{align:'left'});
});
// colour key
{
  const gi=grid.length;
  grid.push({left:605,top:1894,width:42,height:206});
  xAxis.push({type:'value',gridIndex:gi,min:0,max:1,show:false});
  const ll=shiftedLabels(legendOrder,legendDy,false,21.3);
  yAxis.push({type:'category',gridIndex:gi,inverse:true,position:'right',data:legendOrder,
    axisLine:{show:false},axisTick:{show:false},
    axisLabel:{margin:20,formatter:ll.formatter,rich:ll.rich,color:INK,interval:0}});
  series.push({type:'bar',xAxisIndex:gi,yAxisIndex:gi,silent:true,barWidth:'100%',
    data:legendOrder.map((_,i)=>({value:1,itemStyle:{color:LEGENDCOL[i],borderColor:'#b8b8b8',borderWidth:1}}))});
}
txt('a',0,9,30,{bold:true,align:'left'});
txt('b',0,609,30,{bold:true,align:'left'});
txt('c',0,1455,30,{bold:true,align:'left'});
txt('UMAP_1',335,543,19.5);
txt('UMAP_2',41,263.6,19.5,{rot:Math.PI/2});
txt('P3',328,632,30);txt('P7',732.7,631,30);txt('Adult',1155,634,30);
txt('UMAP_2',33,965,19.5,{rot:Math.PI/2});
txt('UMAP_1',737,1393,19.5);

const chart=echarts.init(document.getElementById('c'),null,{renderer:'canvas'});
chart.setOption({animation:false,backgroundColor:'#fff',tooltip:{show:false},grid,xAxis,yAxis,visualMap,series,graphic:{elements:graphicEls}});
</script></body></html>
